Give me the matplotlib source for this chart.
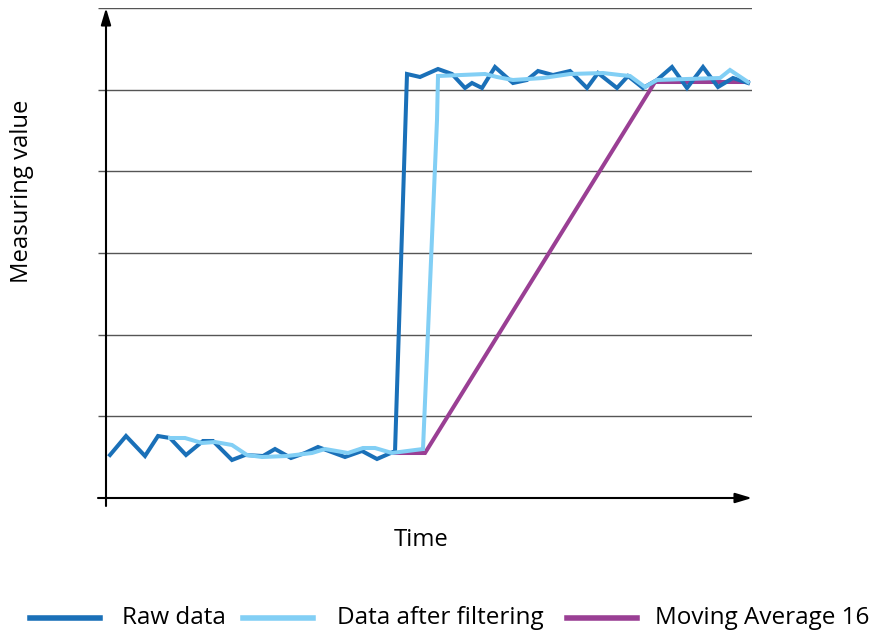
import matplotlib
matplotlib.use("Agg")
import matplotlib.pyplot as plt
from matplotlib.lines import Line2D

# ---- data (time in arbitrary units, value in grid units 0..6) ----
PX0, PY0, PPU = 106.0, 498.0, 81.67

raw_t_px = [110,126,145,158,170,186,203,213,232,245,263,275,291,305,318,345,362,377,393,395,
            407,420,438,452,465,472,482,495,513,527,538,553,570,587,598,617,628,643,657,672,
            687,703,718,733,748]
raw_y_px = [455,436,456,436,438,455,441,441,460,455,456,449,458,453,447,457,451,459,452,452,
            74,77,69,74,88,83,88,67,83,80,71,75,71,88,73,88,76,88,80,67,
            88,67,87,78,83]

filt_t_px = [170,185,202,215,232,247,262,287,312,325,348,363,375,392,423,
             437,438,485,497,513,543,570,603,620,630,645,657,687,720,730,748]
filt_y_px = [438,438,443,442,445,455,457,456,453,449,453,448,448,453,449,
             120,76,74,77,80,78,74,73,75,76,87,80,79,78,70,82]

ma_t_px = [393,425,655,748]
ma_y_px = [453,453,82,82]

raw_t = [p - PX0 for p in raw_t_px]
raw_v = [(PY0 - p) / PPU for p in raw_y_px]
filt_t = [p - PX0 for p in filt_t_px]
filt_v = [(PY0 - p) / PPU for p in filt_y_px]
ma_t = [p - PX0 for p in ma_t_px]
ma_v = [(PY0 - p) / PPU for p in ma_y_px]

grid_levels = [1, 2, 3, 4, 5, 6]
series_labels = ["Raw data", "Data after filtering", "Moving Average 16"]
colors = ["#1a70b8", "#82cff5", "#9a3f94"]

FONT = ["Open Sans", "DejaVu Sans"]

W, H = 877, 634
fig = plt.figure(figsize=(W / 100, H / 100), dpi=100)
left, right, top, bottom = 98, 752, 8, 506
ax = fig.add_axes([left / W, 1 - bottom / H, (right - left) / W, (bottom - top) / H])
ax.set_xlim(left - PX0, right - PX0)
ax.set_ylim((PY0 - bottom) / PPU, (PY0 - top) / PPU)
ax.axis("off")

for g in grid_levels:
    ax.plot([left - PX0, right - PX0], [g, g], color="#555555", lw=1.0, zorder=1,
            solid_capstyle="butt")

lw = 2.9
ax.plot(ma_t, ma_v, color=colors[2], lw=lw, zorder=3, solid_joinstyle="miter")
ax.plot(raw_t, raw_v, color=colors[0], lw=lw, zorder=4, solid_joinstyle="miter")
ax.plot(filt_t, filt_v, color=colors[1], lw=lw, zorder=5, solid_joinstyle="miter")

# axes with arrows
ax.annotate("", xy=(right - PX0, 0), xytext=(left - PX0, 0),
            arrowprops=dict(arrowstyle="-|>,head_length=1.0,head_width=0.3", color="black",
                            lw=1.5, shrinkA=0, shrinkB=0), zorder=6)
ax.annotate("", xy=(0, (PY0 - top) / PPU), xytext=(0, (PY0 - bottom) / PPU),
            arrowprops=dict(arrowstyle="-|>,head_length=1.0,head_width=0.3", color="black",
                            lw=1.5, shrinkA=0, shrinkB=0), zorder=6)

fig.text(22 / W, 1 - 191 / H, "Measuring value", rotation=90, ha="center", va="center",
         fontsize=17.2, family=FONT, color="#000000")
fig.text(421 / W, 1 - 540 / H, "Time", ha="center", va="center",
         fontsize=17.2, family=FONT, color="#000000")

# legend (manual)
ly = 1 - 618 / H
legend_items = [(30, 100, 122), (243, 313, 337), (567, 637, 655)]
for (x0, x1, xt), lab, c in zip(legend_items, series_labels, colors):
    fig.add_artist(Line2D([x0 / W, x1 / W], [ly, ly], color=c, lw=4, transform=fig.transFigure))
    fig.text(xt / W, ly, lab, ha="left", va="center", fontsize=17.5, family=FONT, color="#000000")

fig.savefig("out.png", dpi=100)
